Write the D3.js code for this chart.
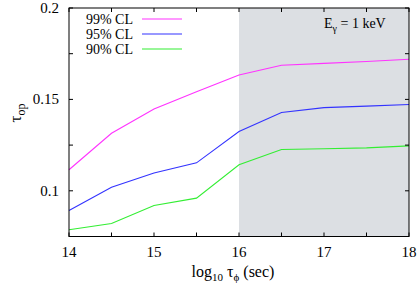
<!DOCTYPE html>
<html>
<head>
<meta charset="utf-8">
<script src="https://cdn.jsdelivr.net/npm/d3@7"></script>
<style>
  body { margin: 0; background: #fff; }
  text { font-family: "Liberation Serif", "Times New Roman", serif; fill: #000; }
</style>
</head>
<body>
<div id="chart"></div>
<script>
// log10 tau_phi (sec)
var tauPhi = [14, 14.5, 15, 15.5, 16, 16.5, 17, 17.5, 18];
var cl99 = [0.1115, 0.1315, 0.1448, 0.1542, 0.1634, 0.1687, 0.1697, 0.1707, 0.1720];
var cl95 = [0.0892, 0.1020, 0.1097, 0.1153, 0.1324, 0.1428, 0.1455, 0.1463, 0.1472];
var cl90 = [0.0787, 0.0821, 0.0920, 0.0960, 0.1142, 0.1226, 0.1230, 0.1235, 0.1246];
var seriesNames = ["99% CL", "95% CL", "90% CL"];
var seriesColors = ["#ff33ff", "#3333ff", "#33ee33"];
var xTickLabels = [14, 15, 16, 17, 18];
var yTickLabels = [0.1, 0.15, 0.2];
var shadeFrom = 16;

var width = 419, height = 291;
var margin = {top: 8, right: 10, bottom: 55, left: 69};

var svg = d3.select("#chart").append("svg")
    .attr("width", width)
    .attr("height", height);

var x = d3.scaleLinear().domain([14, 18]).range([margin.left, width - margin.right]);
var y = d3.scaleLinear().domain([0.075, 0.2]).range([height - margin.bottom + 0.5, margin.top]);

// shaded region
svg.append("rect")
    .attr("x", x(shadeFrom))
    .attr("y", y(0.2))
    .attr("width", x(18) - x(shadeFrom))
    .attr("height", y(0.075) - y(0.2))
    .attr("fill", "#dcdfe3");

var allSeries = [cl99, cl95, cl90];
var line = d3.line()
    .x(function(d, i) { return x(tauPhi[i]); })
    .y(function(d) { return y(d); });

allSeries.forEach(function(s, k) {
  svg.append("path")
      .datum(s)
      .attr("d", line)
      .attr("fill", "none")
      .attr("stroke", seriesColors[k])
      .attr("stroke-width", 1.1);
});

// frame
svg.append("rect")
    .attr("x", x(14))
    .attr("y", y(0.2))
    .attr("width", x(18) - x(14))
    .attr("height", y(0.075) - y(0.2))
    .attr("fill", "none")
    .attr("stroke", "#000")
    .attr("stroke-width", 1);

// ticks (gnuplot style, inward, mirrored)
var xTicks = d3.range(14, 18.01, 0.5);
var yTicks = [0.1, 0.125, 0.15, 0.175, 0.2];
var tk = 4;
xTicks.forEach(function(t) {
  svg.append("line").attr("x1", x(t)).attr("x2", x(t))
     .attr("y1", y(0.075)).attr("y2", y(0.075) - tk).attr("stroke", "#000");
  svg.append("line").attr("x1", x(t)).attr("x2", x(t))
     .attr("y1", y(0.2)).attr("y2", y(0.2) + tk).attr("stroke", "#000");
});
yTicks.forEach(function(t) {
  svg.append("line").attr("x1", x(14)).attr("x2", x(14) + tk)
     .attr("y1", y(t)).attr("y2", y(t)).attr("stroke", "#000");
  svg.append("line").attr("x1", x(18)).attr("x2", x(18) - tk)
     .attr("y1", y(t)).attr("y2", y(t)).attr("stroke", "#000");
});

// tick labels
svg.selectAll(".xl").data(xTickLabels).enter().append("text")
    .attr("x", function(d) { return x(d); })
    .attr("y", 257)
    .attr("text-anchor", "middle")
    .attr("font-size", 15)
    .text(function(d) { return d; });

svg.selectAll(".yl").data(yTickLabels).enter().append("text")
    .attr("x", 59)
    .attr("y", function(d) { return y(d) + 5; })
    .attr("text-anchor", "end")
    .attr("font-size", 15)
    .text(function(d) { return d; });

// axis titles
var xt = svg.append("text")
    .attr("x", 233)
    .attr("y", 277)
    .attr("text-anchor", "middle")
    .attr("font-size", 16);
xt.append("tspan").text("log");
xt.append("tspan").attr("font-size", 11).attr("dy", 4).text("10");
xt.append("tspan").attr("dy", -4).text(" τ");
xt.append("tspan").attr("font-size", 11).attr("dy", 4).text("ϕ");
xt.append("tspan").attr("dy", -4).text(" (sec)");

var yt = svg.append("text")
    .attr("transform", "translate(21,113) rotate(-90)")
    .attr("text-anchor", "middle")
    .attr("font-size", 17);
yt.append("tspan").text("τ");
yt.append("tspan").attr("font-size", 12).attr("dy", 4).text("op");

// annotation
var ann = svg.append("text")
    .attr("x", 324)
    .attr("y", 28)
    .attr("font-size", 14);
ann.append("tspan").text("E");
ann.append("tspan").attr("font-size", 10).attr("dy", 4).text("γ");
ann.append("tspan").attr("dy", -4).text(" = 1 keV");

// legend
seriesNames.forEach(function(n, k) {
  var ly = 19 + k * 15;
  svg.append("text")
      .attr("x", 133)
      .attr("y", ly + 5)
      .attr("text-anchor", "end")
      .attr("font-size", 14)
      .text(n);
  svg.append("line")
      .attr("x1", 142).attr("x2", 182)
      .attr("y1", ly).attr("y2", ly)
      .attr("stroke", seriesColors[k])
      .attr("stroke-width", 1.2);
});
</script>
</body>
</html>
